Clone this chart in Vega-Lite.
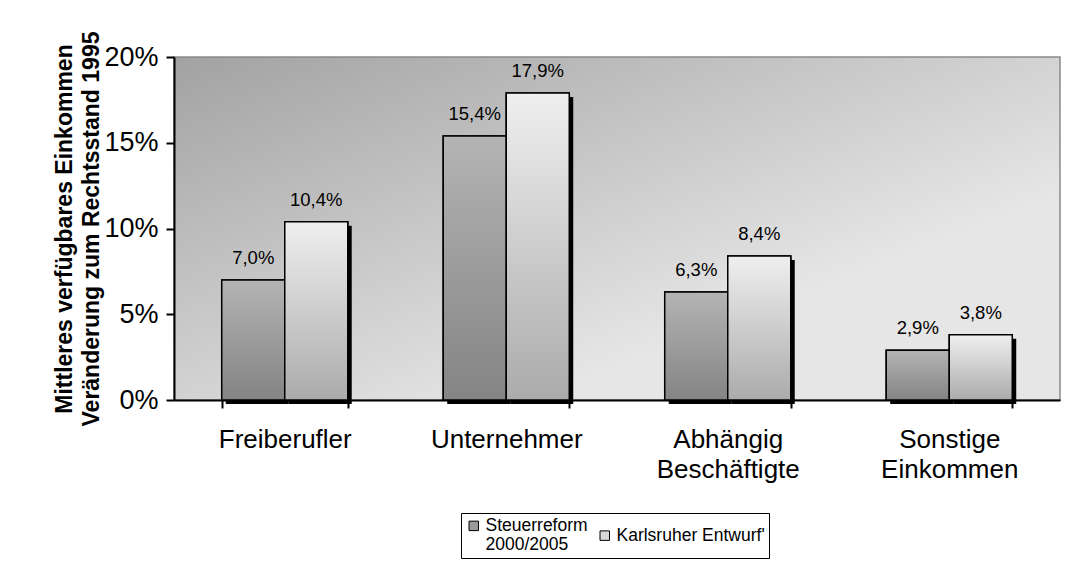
{
  "$schema": "https://vega.github.io/schema/vega-lite/v6.json",
  "width": 886,
  "height": 343,
  "autosize": {"type": "none"},
  "padding": {"left": 174, "top": 57, "right": 6, "bottom": 174},
  "background": "white",
  "config": {
    "locale": {"number": {"decimal": ",", "thousands": ".", "grouping": [3], "currency": ["", " €"]}},
    "font": "Liberation Sans",
    "view": {
      "stroke": "#8a8a8a",
      "strokeWidth": 1.5,
      "fill": {"gradient": "linear", "x1": 0, "y1": 0, "x2": 0.7, "y2": 0.7,
        "stops": [{"offset": 0, "color": "#a2a2a2"}, {"offset": 1, "color": "#e6e6e6"}]}
    }
  },
  "data": {"values": [
    {"kategorie": "Freiberufler", "reihe": "Steuerreform 2000/2005", "wert": 0.070},
    {"kategorie": "Freiberufler", "reihe": "Karlsruher Entwurf'", "wert": 0.104},
    {"kategorie": "Unternehmer", "reihe": "Steuerreform 2000/2005", "wert": 0.154},
    {"kategorie": "Unternehmer", "reihe": "Karlsruher Entwurf'", "wert": 0.179},
    {"kategorie": "Abhängig Beschäftigte", "reihe": "Steuerreform 2000/2005", "wert": 0.063},
    {"kategorie": "Abhängig Beschäftigte", "reihe": "Karlsruher Entwurf'", "wert": 0.084},
    {"kategorie": "Sonstige Einkommen", "reihe": "Steuerreform 2000/2005", "wert": 0.029},
    {"kategorie": "Sonstige Einkommen", "reihe": "Karlsruher Entwurf'", "wert": 0.038}
  ]},
  "encoding": {
    "x": {
      "field": "kategorie", "type": "nominal", "sort": null,
      "scale": {"paddingInner": 0.431, "paddingOuter": 0.2155},
      "axis": {
        "title": null, "labelAngle": 0, "labelFontSize": 26, "labelColor": "black",
        "labelExpr": "split(datum.label, ' ')", "labelLineHeight": 30,
        "labelPadding": 18, "tickSize": 8, "tickBand": "extent",
        "domainColor": "black", "domainWidth": 2, "tickColor": "black", "tickWidth": 2
      }
    },
    "y": {
      "field": "wert", "type": "quantitative",
      "scale": {"domain": [0, 0.2], "nice": false},
      "axis": {
        "title": ["Mittleres verfügbares Einkommen", "Veränderung zum Rechtsstand 1995"],
        "titleFontSize": 23, "titleFontWeight": "bold", "titleColor": "black", "titleLineHeight": 27,
        "titlePadding": 0,
        "format": ".0%", "values": [0, 0.05, 0.1, 0.15, 0.2], "grid": false,
        "labelFontSize": 27, "labelColor": "black", "labelPadding": 8, "tickSize": 8,
        "domainColor": "black", "domainWidth": 2, "tickColor": "black", "tickWidth": 2
      }
    }
  },
  "resolve": {"scale": {"xOffset": "independent"}},
  "layer": [
    {
      "mark": {"type": "bar", "color": "black", "yOffset": 4, "y2Offset": 0},
      "encoding": {
        "xOffset": {"field": "reihe", "type": "nominal", "sort": null,
          "scale": {"paddingInner": 0, "paddingOuter": 0, "range": [4, 130]}}
      }
    },
    {
      "layer": [
        {
          "mark": {"type": "bar", "stroke": "black", "strokeWidth": 1.5},
          "encoding": {
            "color": {
              "field": "reihe", "type": "nominal", "sort": null,
              "scale": {"range": ["#9a9a9a", "#d8d8d8"]},
              "legend": {
                "title": null, "orient": "none", "legendX": 287, "legendY": 456,
                "direction": "horizontal", "fillColor": "white", "strokeColor": "black",
                "padding": 4, "labelFontSize": 17.5, "labelColor": "black",
                "labelExpr": "datum.label == 'Steuerreform 2000/2005' ? ['Steuerreform', '2000/2005'] : datum.label",
                "labelLimit": 300, "labelOffset": 3, "labelLineHeight": 21,
                "symbolType": "square", "symbolSize": 90, "symbolStrokeColor": "black", "symbolStrokeWidth": 1,
                "columnPadding": 8
              }
            }
          }
        },
        {
          "transform": [{"filter": "datum.reihe == 'Steuerreform 2000/2005'"}],
          "mark": {"type": "bar", "stroke": "black", "strokeWidth": 1.5,
            "fill": {"gradient": "linear", "x1": 0, "y1": 0, "x2": 0, "y2": 1,
              "stops": [{"offset": 0, "color": "#b4b4b4"}, {"offset": 1, "color": "#848484"}]}}
        },
        {
          "transform": [{"filter": "datum.reihe == \"Karlsruher Entwurf'\""}],
          "mark": {"type": "bar", "stroke": "black", "strokeWidth": 1.5,
            "fill": {"gradient": "linear", "x1": 0, "y1": 0, "x2": 0, "y2": 1,
              "stops": [{"offset": 0, "color": "#efefef"}, {"offset": 1, "color": "#ababab"}]}}
        },
        {
          "mark": {"type": "text", "fontSize": 18.5, "color": "black", "baseline": "alphabetic", "dy": -16},
          "encoding": {"text": {"field": "wert", "type": "quantitative", "format": ".1%"}}
        }
      ],
      "encoding": {
        "xOffset": {"field": "reihe", "type": "nominal", "sort": null, "scale": {"paddingInner": 0, "paddingOuter": 0}}
      }
    }
  ]
}
